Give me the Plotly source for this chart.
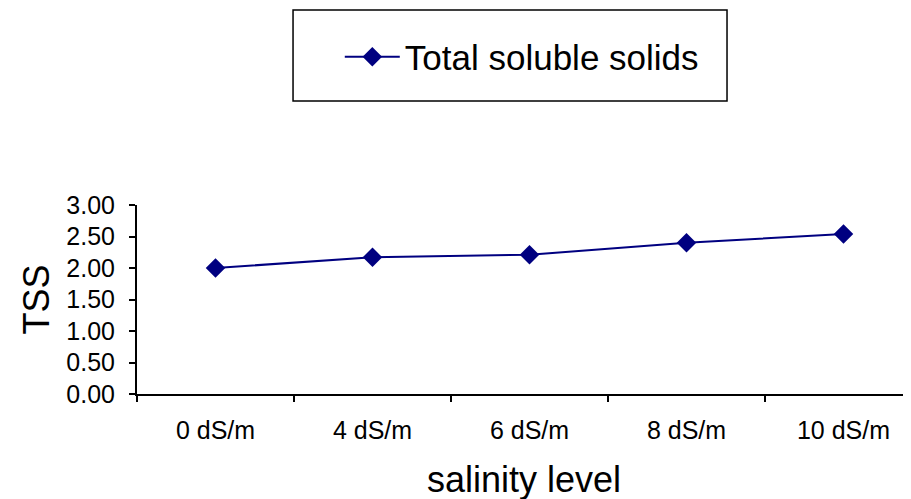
import plotly.graph_objects as go

categories = ["0 dS/m", "4 dS/m", "6 dS/m", "8 dS/m", "10 dS/m"]
tss_values = [2.00, 2.17, 2.21, 2.40, 2.54]
series_name = "Total soluble solids"
y_ticks = [0, 0.5, 1.0, 1.5, 2.0, 2.5, 3.0]

FONT = "Arial, Liberation Sans, sans-serif"

fig = go.Figure()
fig.add_trace(go.Scatter(
    x=categories, y=tss_values, name=series_name, mode="lines+markers",
    line=dict(color="#000080", width=2),
    marker=dict(symbol="diamond", size=15, color="#000080"),
))

fig.update_layout(
    width=911, height=499,
    margin=dict(l=129, r=8, t=197, b=113),
    paper_bgcolor="white", plot_bgcolor="white",
    font=dict(family=FONT, color="black"),
    showlegend=True,
    legend=dict(x=0.262, y=1.783, xanchor="left", yanchor="middle",
                font=dict(size=35, family=FONT), borderwidth=0,
                itemwidth=55, bgcolor="rgba(0,0,0,0)"),
    xaxis=dict(type="category", range=[-0.5, 4.43], tickson="boundaries",
               ticks="outside", ticklen=6, tickcolor="black", tickwidth=1.5,
               showline=True, linecolor="black", linewidth=2,
               showgrid=False, zeroline=False,
               tickfont=dict(size=25, family=FONT),
               ticklabelstandoff=13,
               title=dict(text="salinity level", font=dict(size=36, family=FONT),
                          standoff=24)),
    yaxis=dict(range=[0, 3], tickvals=y_ticks, tickformat=".2f",
               ticks="outside", ticklen=6, tickcolor="black", tickwidth=1.5,
               showline=True, linecolor="black", linewidth=2,
               showgrid=False, zeroline=False,
               tickfont=dict(size=25, family=FONT),
               ticklabelstandoff=9,
               title=dict(text="TSS", font=dict(size=36, family=FONT),
                          standoff=6)),
    shapes=[dict(type="rect", xref="paper", yref="paper",
                 x0=0.2016, x1=0.7623, y0=1.550, y1=2.032,
                 line=dict(color="black", width=1.5), fillcolor="rgba(0,0,0,0)")],
)

fig.write_html("out.html")
